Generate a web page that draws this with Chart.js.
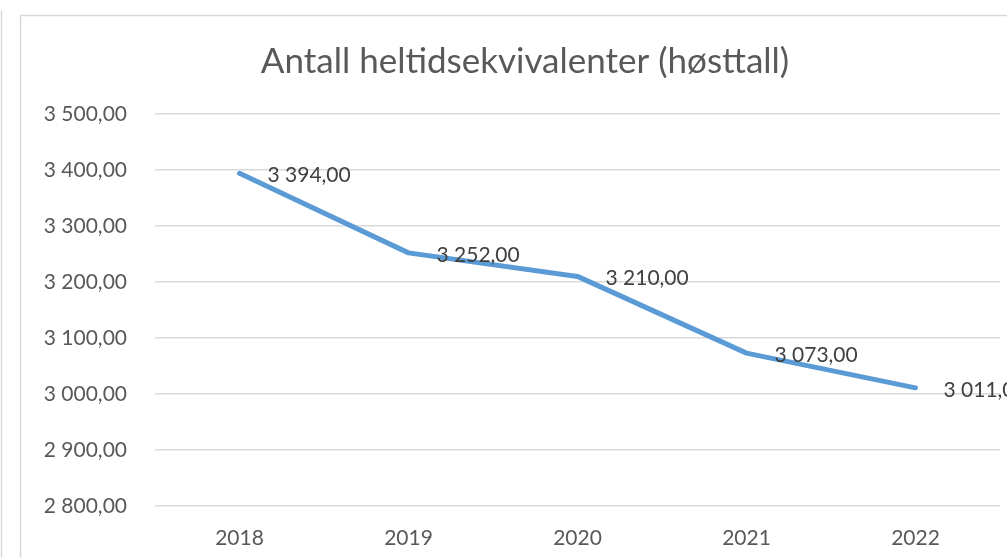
<!DOCTYPE html>
<html>
<head>
<meta charset="utf-8">
<script src="https://cdn.jsdelivr.net/npm/chart.js@4"></script>
<style>
  html, body { margin: 0; padding: 0; background: #fff; overflow: hidden; }
  #wrap { position: absolute; left: 0; top: 0; width: 1050px; height: 558px; }
</style>
</head>
<body>
<div id="wrap"><canvas id="chart" width="1050" height="558"></canvas></div>
<script>
// Antall heltidsekvivalenter per år (høsttall)
const years = ['2018', '2019', '2020', '2021', '2022'];
const heltid = [3394, 3252, 3210, 3073, 3011];
const yMin = 2800;
const yMax = 3500;
const yStep = 100;

// format norsk: "3 394,00"
function fmt(v) {
    const parts = Number(v).toFixed(2).split('.');
    const heltall = parts[0].replace(/\B(?=(\d{3})+(?!\d))/g, ' ');
    return heltall + ',' + parts[1];
}

const fontFam = 'Lato, "Open Sans", sans-serif';

// ramme rundt diagrammet (som i Excel)
const ramme = {
    id: 'ramme',
    beforeDraw(chart) {
        const ctx = chart.ctx;
        ctx.save();
        ctx.strokeStyle = '#d9d9d9';
        ctx.lineWidth = 1.5;
        ctx.strokeRect(20.5, 15.5, 1100, 600);
        ctx.beginPath();
        ctx.moveTo(1.5, 10);
        ctx.lineTo(1.5, 558);
        ctx.stroke();
        ctx.restore();
    }
};

// dataetiketter til høyre for punktene
const etiketter = {
    id: 'etiketter',
    afterDatasetsDraw(chart) {
        const ctx = chart.ctx;
        const meta = chart.getDatasetMeta(0);
        ctx.save();
        ctx.font = '21px ' + fontFam;
        ctx.fillStyle = '#404040';
        ctx.textAlign = 'left';
        ctx.textBaseline = 'middle';
        meta.data.forEach((pt, i) => {
            ctx.fillText(fmt(heltid[i]), pt.x + 28, pt.y + 2);
        });
        ctx.restore();
    }
};

new Chart(document.getElementById('chart'), {
    type: 'line',
    data: {
        labels: years,
        datasets: [{
            data: heltid,
            borderColor: '#5b9bd5',
            borderWidth: 5,
            pointRadius: 0,
            tension: 0,
            borderCapStyle: 'round',
            borderJoinStyle: 'round'
        }]
    },
    options: {
        responsive: false,
        animation: false,
        layout: { padding: 0 },
        plugins: {
            legend: { display: false },
            tooltip: { enabled: false },
            title: {
                display: true,
                text: 'Antall heltidsekvivalenter (høsttall)',
                color: '#595959',
                font: { family: fontFam, size: 35, weight: 'normal', lineHeight: 1.2 },
                padding: { top: 41, bottom: 31 }
            }
        },
        scales: {
            x: {
                offset: true,
                grid: { display: false, drawTicks: false },
                border: { display: false },
                ticks: {
                    color: '#595959',
                    font: { family: fontFam, size: 21 },
                    padding: 20,
                    maxRotation: 0
                },
                afterFit(scale) { scale.height = 52; }
            },
            y: {
                min: yMin,
                max: yMax,
                grid: { color: '#d9d9d9', lineWidth: 1.5, drawTicks: false },
                border: { display: false },
                ticks: {
                    stepSize: yStep,
                    color: '#595959',
                    font: { family: fontFam, size: 21 },
                    padding: 28,
                    callback: v => fmt(v)
                },
                afterFit(scale) { scale.width = 155; }
            },
            // tom akse til høyre, bare for å holde plass
            hoyre: {
                position: 'right',
                grid: { display: false, drawTicks: false },
                border: { display: false },
                ticks: { display: false },
                afterFit(scale) { scale.width = 50; }
            }
        }
    },
    plugins: [ramme, etiketter]
});
</script>
</body>
</html>
